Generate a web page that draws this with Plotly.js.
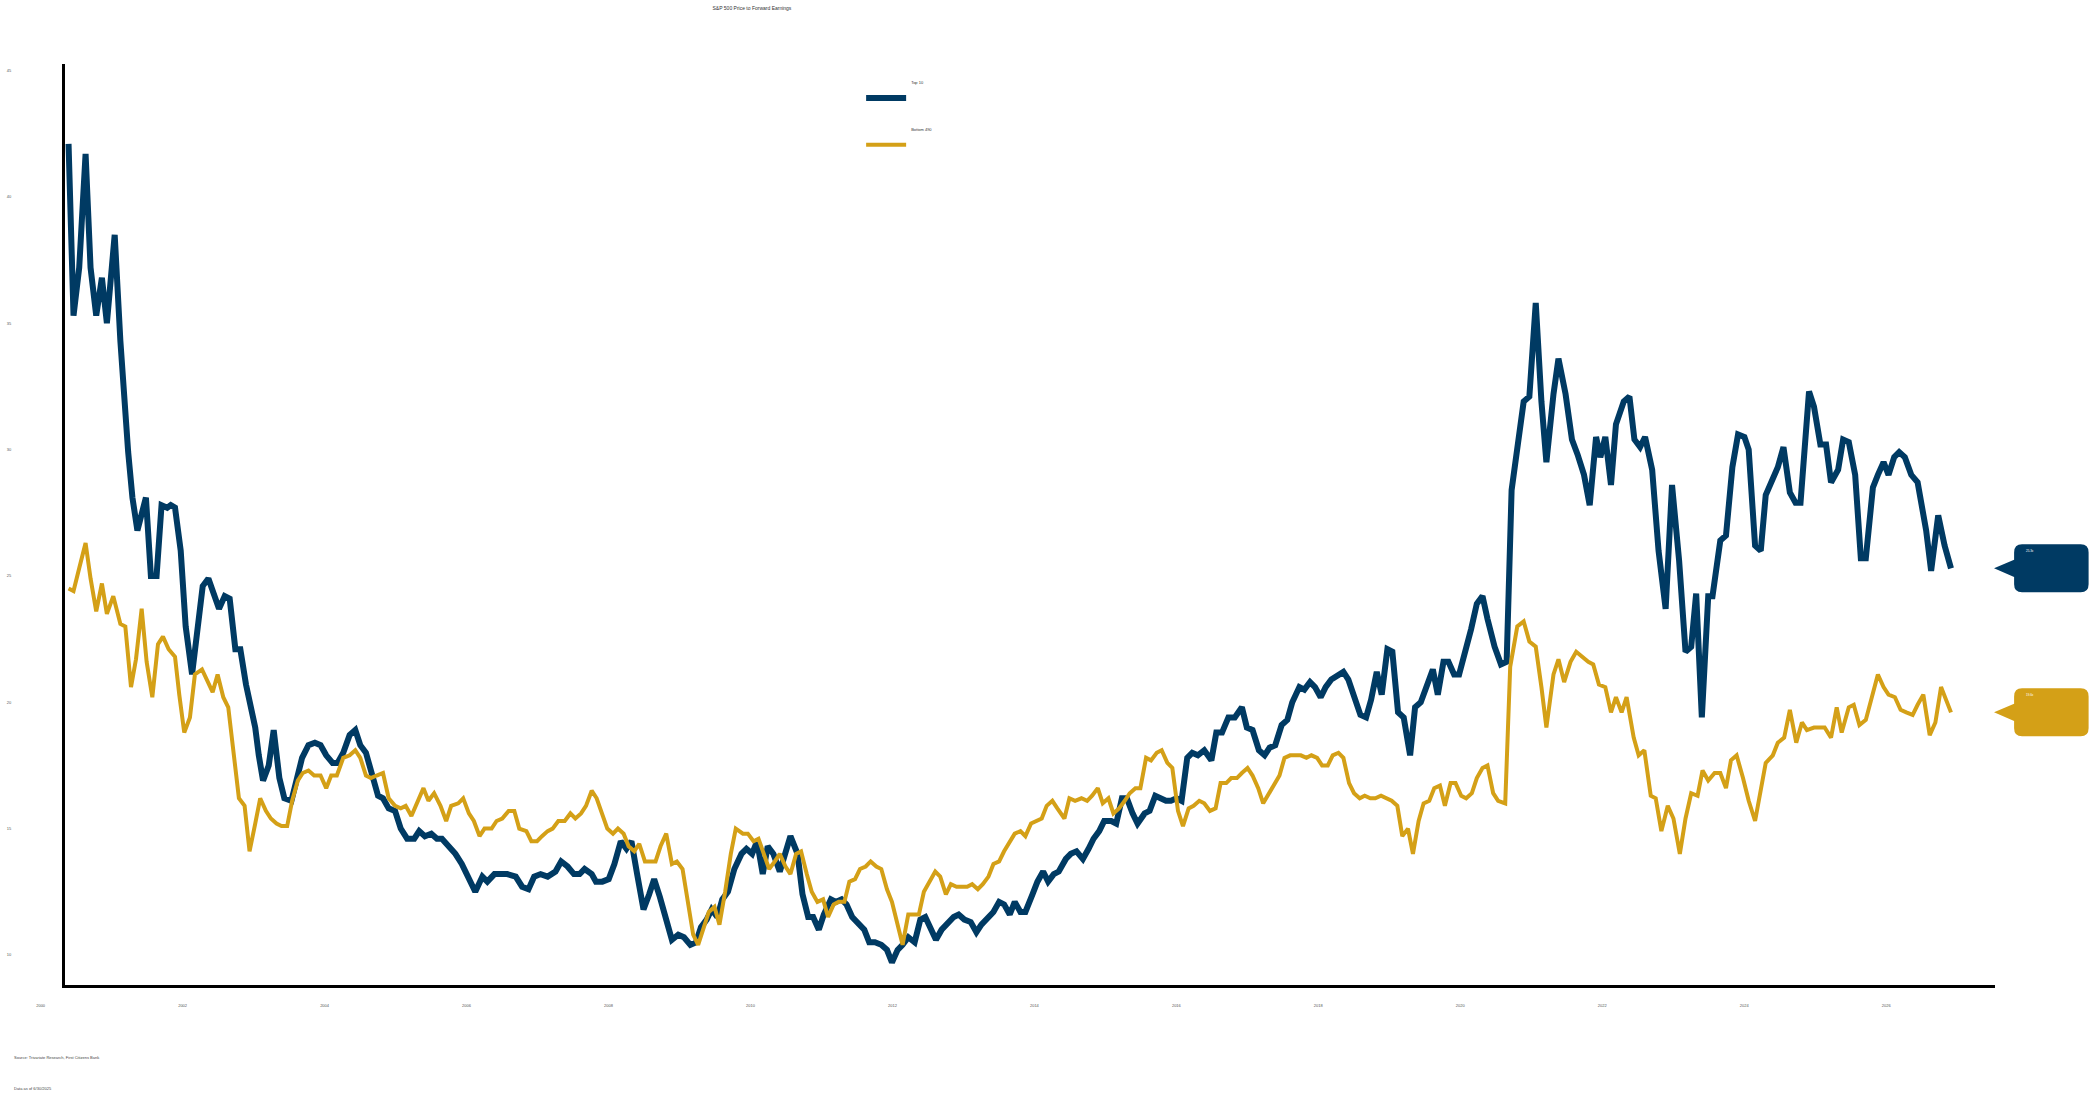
<!DOCTYPE html>
<html>
<head>
<meta charset="utf-8">
<script src="https://cdn.plot.ly/plotly-3.0.1.min.js"></script>
<style>html,body{margin:0;padding:0;background:#fff;}#chart{width:2094px;height:1094px;}</style>
</head>
<body>
<div id="chart"></div>
<script>
// ---- Data (decimal year, forward P/E) ----
const top10Dates = [2000.40,2000.47,2000.55,2000.64,2000.71,2000.79,2000.87,2000.94,2001.05,2001.13,2001.24,2001.30,2001.37,2001.43,2001.49,2001.56,2001.64,2001.71,2001.79,2001.84,2001.90,2001.98,2002.05,2002.14,2002.22,2002.29,2002.37,2002.45,2002.52,2002.60,2002.67,2002.75,2002.82,2002.90,2002.97,2003.03,2003.08,2003.14,2003.22,2003.29,2003.37,2003.44,2003.54,2003.61,2003.69,2003.78,2003.87,2003.95,2004.03,2004.12,2004.19,2004.27,2004.36,2004.44,2004.51,2004.59,2004.68,2004.76,2004.83,2004.91,2005.00,2005.08,2005.17,2005.27,2005.34,2005.42,2005.51,2005.59,2005.66,2005.76,2005.85,2005.94,2006.04,2006.13,2006.23,2006.30,2006.40,2006.47,2006.58,2006.70,2006.79,2006.88,2006.96,2007.05,2007.15,2007.26,2007.34,2007.43,2007.52,2007.60,2007.67,2007.77,2007.83,2007.92,2008.01,2008.09,2008.18,2008.26,2008.33,2008.41,2008.50,2008.58,2008.65,2008.73,2008.82,2008.90,2008.99,2009.07,2009.16,2009.24,2009.31,2009.39,2009.46,2009.54,2009.61,2009.69,2009.78,2009.88,2009.95,2010.03,2010.10,2010.18,2010.25,2010.33,2010.42,2010.50,2010.57,2010.67,2010.74,2010.82,2010.89,2010.97,2011.04,2011.14,2011.21,2011.29,2011.36,2011.44,2011.53,2011.61,2011.68,2011.76,2011.85,2011.93,2012.00,2012.08,2012.15,2012.23,2012.32,2012.40,2012.47,2012.55,2012.62,2012.70,2012.79,2012.87,2012.94,2013.02,2013.11,2013.19,2013.26,2013.34,2013.43,2013.51,2013.58,2013.66,2013.73,2013.81,2013.88,2013.98,2014.05,2014.13,2014.20,2014.28,2014.35,2014.45,2014.52,2014.60,2014.69,2014.77,2014.84,2014.92,2014.99,2015.09,2015.16,2015.24,2015.31,2015.39,2015.46,2015.56,2015.63,2015.71,2015.78,2015.86,2015.93,2016.01,2016.08,2016.16,2016.23,2016.31,2016.40,2016.50,2016.57,2016.65,2016.74,2016.83,2016.93,2017.00,2017.08,2017.17,2017.25,2017.32,2017.40,2017.49,2017.57,2017.64,2017.74,2017.81,2017.89,2017.96,2018.04,2018.11,2018.19,2018.26,2018.36,2018.43,2018.51,2018.60,2018.68,2018.75,2018.83,2018.90,2018.98,2019.05,2019.13,2019.21,2019.30,2019.37,2019.45,2019.52,2019.62,2019.69,2019.77,2019.84,2019.92,2019.99,2020.07,2020.16,2020.24,2020.32,2020.39,2020.49,2020.58,2020.66,2020.73,2020.83,2020.90,2020.98,2021.07,2021.15,2021.22,2021.32,2021.39,2021.49,2021.58,2021.66,2021.75,2021.83,2021.92,2021.98,2022.05,2022.13,2022.20,2022.31,2022.39,2022.46,2022.54,2022.61,2022.71,2022.80,2022.90,2022.99,2023.09,2023.18,2023.26,2023.33,2023.41,2023.50,2023.56,2023.67,2023.75,2023.84,2023.92,2024.01,2024.07,2024.16,2024.24,2024.31,2024.41,2024.48,2024.56,2024.65,2024.73,2024.80,2024.92,2024.99,2025.08,2025.16,2025.23,2025.33,2025.40,2025.48,2025.57,2025.65,2025.72,2025.82,2025.89,2025.97,2026.04,2026.12,2026.19,2026.27,2026.36,2026.45,2026.57,2026.64,2026.74,2026.83,2026.92];
const top10Values = [42.1,35.3,37.2,41.7,37.2,35.3,36.8,35.0,38.5,34.3,29.9,28.1,26.8,27.4,28.1,25.0,25.0,27.8,27.7,27.8,27.7,26.0,23.0,21.1,23.2,24.6,24.9,24.2,23.7,24.2,24.1,22.1,22.1,20.7,19.7,19.0,17.9,16.9,17.5,18.9,17.0,16.2,16.1,16.8,17.8,18.3,18.4,18.3,17.9,17.6,17.6,18.0,18.7,18.9,18.3,18.0,17.0,16.3,16.2,15.8,15.7,15.0,14.6,14.6,14.9,14.7,14.8,14.6,14.6,14.3,14.0,13.6,13.0,12.5,13.1,12.9,13.2,13.2,13.2,13.1,12.7,12.6,13.1,13.2,13.1,13.3,13.7,13.5,13.2,13.2,13.4,13.2,12.9,12.9,13.0,13.6,14.5,14.2,14.5,13.2,11.8,12.4,13.0,12.3,11.3,10.6,10.8,10.7,10.4,10.5,11.1,11.4,11.8,11.5,12.2,12.5,13.4,14.0,14.2,14.0,14.5,13.2,14.3,14.0,13.3,14.0,14.7,14.0,12.4,11.5,11.5,11.0,11.6,12.2,12.1,12.2,12.0,11.5,11.2,11.0,10.5,10.5,10.4,10.2,9.7,10.2,10.4,10.7,10.5,11.4,11.5,11.0,10.6,11.0,11.3,11.5,11.6,11.4,11.3,10.9,11.2,11.4,11.7,12.1,12.0,11.6,12.1,11.7,11.7,12.4,12.9,13.3,12.9,13.2,13.3,13.8,14.0,14.1,13.8,14.2,14.6,14.9,15.3,15.3,15.2,16.2,16.2,15.6,15.2,15.6,15.7,16.3,16.2,16.1,16.1,16.2,16.1,17.8,18.0,17.9,18.1,17.7,18.8,18.8,19.4,19.4,19.8,19.0,18.9,18.1,17.9,18.2,18.3,19.1,19.3,20.0,20.6,20.5,20.8,20.6,20.2,20.6,20.9,21.0,21.2,20.9,20.3,19.5,19.4,20.1,21.2,20.3,22.1,22.0,19.6,19.4,17.9,19.8,20.0,20.5,21.3,20.3,21.6,21.6,21.1,21.1,21.9,22.9,23.9,24.2,23.3,22.2,21.5,21.6,28.4,30.6,31.9,32.1,35.8,31.9,29.5,32.2,33.6,32.2,30.4,29.8,29.0,27.8,30.5,29.7,30.5,28.6,31.0,31.9,32.1,30.4,30.1,30.5,29.2,26.0,23.7,28.6,25.6,22.0,22.2,24.3,19.4,24.2,24.2,26.4,26.6,29.3,30.6,30.5,30.0,26.2,26.0,28.2,28.9,29.3,30.1,28.3,27.9,27.9,32.3,31.7,30.2,30.2,28.7,29.2,30.4,30.3,29.0,25.7,25.7,28.5,29.0,29.5,29.0,29.7,29.9,29.7,29.0,28.7,26.8,25.2,27.4,26.2,25.3];

const bottom490Dates = [2000.40,2000.47,2000.55,2000.64,2000.71,2000.79,2000.87,2000.94,2001.03,2001.13,2001.20,2001.28,2001.35,2001.43,2001.50,2001.58,2001.66,2001.73,2001.81,2001.90,2001.96,2002.03,2002.11,2002.18,2002.28,2002.35,2002.43,2002.50,2002.58,2002.65,2002.73,2002.80,2002.88,2002.95,2003.03,2003.10,2003.18,2003.25,2003.33,2003.40,2003.48,2003.55,2003.63,2003.70,2003.78,2003.86,2003.95,2004.03,2004.10,2004.18,2004.27,2004.36,2004.44,2004.51,2004.59,2004.66,2004.74,2004.83,2004.91,2005.00,2005.08,2005.15,2005.23,2005.31,2005.40,2005.47,2005.55,2005.64,2005.72,2005.79,2005.89,2005.96,2006.04,2006.11,2006.19,2006.26,2006.36,2006.43,2006.51,2006.60,2006.68,2006.75,2006.85,2006.92,2007.00,2007.07,2007.15,2007.22,2007.30,2007.39,2007.47,2007.54,2007.62,2007.69,2007.77,2007.84,2007.92,2007.99,2008.07,2008.14,2008.22,2008.29,2008.37,2008.44,2008.52,2008.59,2008.67,2008.74,2008.82,2008.90,2008.97,2009.05,2009.12,2009.20,2009.27,2009.35,2009.42,2009.50,2009.57,2009.65,2009.73,2009.80,2009.90,2009.97,2010.05,2010.12,2010.20,2010.27,2010.35,2010.42,2010.50,2010.57,2010.65,2010.72,2010.80,2010.87,2010.95,2011.03,2011.10,2011.18,2011.25,2011.33,2011.40,2011.48,2011.55,2011.63,2011.70,2011.78,2011.85,2011.93,2012.00,2012.08,2012.15,2012.23,2012.30,2012.38,2012.45,2012.53,2012.61,2012.68,2012.76,2012.83,2012.91,2012.98,2013.06,2013.13,2013.21,2013.28,2013.36,2013.43,2013.51,2013.58,2013.66,2013.73,2013.81,2013.88,2013.96,2014.03,2014.11,2014.18,2014.26,2014.33,2014.43,2014.50,2014.58,2014.67,2014.75,2014.82,2014.90,2014.97,2015.05,2015.12,2015.20,2015.28,2015.35,2015.43,2015.50,2015.58,2015.65,2015.73,2015.80,2015.88,2015.95,2016.03,2016.10,2016.18,2016.25,2016.33,2016.40,2016.48,2016.56,2016.63,2016.71,2016.78,2016.86,2016.93,2017.01,2017.08,2017.16,2017.23,2017.31,2017.38,2017.46,2017.53,2017.61,2017.69,2017.76,2017.84,2017.91,2017.99,2018.06,2018.14,2018.21,2018.29,2018.36,2018.44,2018.51,2018.59,2018.66,2018.74,2018.81,2018.89,2018.97,2019.04,2019.12,2019.19,2019.27,2019.34,2019.42,2019.49,2019.57,2019.64,2019.72,2019.79,2019.87,2019.94,2020.02,2020.09,2020.17,2020.24,2020.32,2020.39,2020.47,2020.54,2020.64,2020.71,2020.81,2020.90,2020.98,2021.07,2021.15,2021.22,2021.32,2021.39,2021.47,2021.56,2021.64,2021.73,2021.81,2021.88,2021.96,2022.05,2022.13,2022.20,2022.28,2022.35,2022.45,2022.52,2022.60,2022.69,2022.76,2022.84,2022.93,2023.01,2023.10,2023.18,2023.26,2023.35,2023.42,2023.50,2023.59,2023.67,2023.75,2023.82,2023.90,2023.99,2024.07,2024.16,2024.24,2024.31,2024.41,2024.48,2024.57,2024.65,2024.74,2024.82,2024.89,2024.99,2025.06,2025.14,2025.23,2025.31,2025.38,2025.48,2025.55,2025.63,2025.72,2025.80,2025.89,2025.97,2026.04,2026.13,2026.21,2026.29,2026.38,2026.45,2026.53,2026.62,2026.70,2026.78,2026.92];
const bottom490Values = [24.5,24.4,25.3,26.3,24.9,23.6,24.7,23.5,24.2,23.1,23.0,20.6,21.7,23.7,21.6,20.2,22.3,22.6,22.1,21.8,20.3,18.8,19.4,21.1,21.3,20.9,20.4,21.1,20.2,19.8,17.9,16.2,15.9,14.1,15.2,16.2,15.7,15.4,15.2,15.1,15.1,16.1,16.9,17.2,17.3,17.1,17.1,16.6,17.1,17.1,17.8,17.9,18.1,17.8,17.1,17.0,17.1,17.2,16.2,15.9,15.8,15.9,15.5,16.0,16.6,16.1,16.4,15.9,15.3,15.9,16.0,16.2,15.6,15.3,14.7,15.0,15.0,15.3,15.4,15.7,15.7,15.0,14.9,14.5,14.5,14.7,14.9,15.0,15.3,15.3,15.6,15.4,15.6,15.9,16.5,16.2,15.6,15.0,14.8,15.0,14.8,14.3,14.1,14.4,13.7,13.7,13.7,14.3,14.8,13.6,13.7,13.4,12.2,10.8,10.4,11.1,11.7,11.9,11.2,12.5,14.0,15.0,14.8,14.8,14.5,14.6,14.0,13.4,13.7,14.0,13.5,13.2,14.0,14.1,13.2,12.5,12.1,12.2,11.5,12.0,12.1,12.1,12.9,13.0,13.4,13.5,13.7,13.5,13.4,12.6,12.1,11.2,10.4,11.6,11.6,11.6,12.5,12.9,13.3,13.1,12.4,12.8,12.7,12.7,12.7,12.8,12.6,12.8,13.1,13.6,13.7,14.1,14.5,14.8,14.9,14.7,15.2,15.3,15.4,15.9,16.1,15.8,15.4,16.2,16.1,16.2,16.1,16.3,16.6,16.0,16.2,15.6,15.8,16.1,16.4,16.6,16.6,17.8,17.7,18.0,18.1,17.6,17.4,15.7,15.1,15.8,15.9,16.1,16.0,15.7,15.8,16.8,16.8,17.0,17.0,17.2,17.4,17.1,16.6,16.0,16.4,16.7,17.1,17.8,17.9,17.9,17.9,17.8,17.9,17.8,17.5,17.5,17.9,18.0,17.8,16.8,16.4,16.2,16.3,16.2,16.2,16.3,16.2,16.1,15.9,14.7,15.0,14.0,15.3,16.0,16.1,16.6,16.7,15.9,16.8,16.8,16.3,16.2,16.4,17.0,17.4,17.5,16.4,16.1,16.0,21.4,23.0,23.2,22.4,22.2,20.6,19.0,21.1,21.7,20.8,21.6,22.0,21.8,21.6,21.5,20.7,20.6,19.6,20.2,19.6,20.2,18.6,17.9,18.1,16.3,16.2,14.9,15.9,15.4,14.0,15.4,16.4,16.3,17.3,16.9,17.2,17.2,16.6,17.7,17.9,17.0,16.1,15.3,16.5,17.6,17.9,18.4,18.6,19.7,18.4,19.2,18.9,19.0,19.0,19.0,18.6,19.8,18.8,19.8,19.9,19.1,19.3,20.1,21.1,20.6,20.3,20.2,19.7,19.6,19.5,19.9,20.3,18.7,19.2,20.6,19.6];

const yTickVals = [10, 15, 20, 25, 30, 35, 40, 45];
const xTickYears = [2000, 2002, 2004, 2006, 2008, 2010, 2012, 2014, 2016, 2018, 2020, 2022, 2024, 2026];

const BLUE = '#003A63';
const GOLD = '#D4A017';
const FONT = 'Liberation Sans, Arial, sans-serif';

const traces = [
  {x: top10Dates, y: top10Values, type: 'scatter', mode: 'lines', name: 'Top 10<br> <br> <br> ',
   legendgroup: 'a', line: {color: BLUE, width: 6}, hoverinfo: 'x+y'},
  {x: bottom490Dates, y: bottom490Values, type: 'scatter', mode: 'lines', name: 'Bottom 490<br> <br> <br> ',
   legendgroup: 'b', line: {color: GOLD, width: 4}, hoverinfo: 'x+y'}
];

// speech-bubble callouts at the last value of each series
function bubble(v, color) {
  const tip = 0.9995, l = 1.0099, r = 1.0485, rx = 0.0041, ry = 0.32, h = 0.95, pb = 0.34;
  const p = `M ${tip},${v} L ${l},${v + pb} L ${l},${v + h - ry} Q ${l},${v + h} ${l + rx},${v + h} ` +
    `L ${r - rx},${v + h} Q ${r},${v + h} ${r},${v + h - ry} L ${r},${v - h + ry} Q ${r},${v - h} ${r - rx},${v - h} ` +
    `L ${l + rx},${v - h} Q ${l},${v - h} ${l},${v - h + ry} L ${l},${v - pb} Z`;
  return {type: 'path', xref: 'paper', yref: 'y', path: p, fillcolor: color, line: {width: 0}, layer: 'above'};
}
const lastTop = top10Values[top10Values.length - 1];
const lastBot = bottom490Values[bottom490Values.length - 1];

const xRange = [2000.35, 2027.54];
const pxPerYear = 1930 / (xRange[1] - xRange[0]);

const layout = {
  width: 2094, height: 1094,
  margin: {l: 65, r: 99, t: 64, b: 109},
  paper_bgcolor: '#ffffff', plot_bgcolor: '#ffffff',
  font: {family: FONT, color: '#444', size: 4},
  title: {text: 'S&P 500 Price to Forward Earnings', x: 0.3591, xref: 'container', xanchor: 'center',
          y: 0.9927, yref: 'container', yanchor: 'middle', font: {family: FONT, size: 5, color: '#333'}},
  xaxis: {type: 'linear', range: xRange, showgrid: false, zeroline: false,
          showline: true, linecolor: '#000', linewidth: 3, ticks: '',
          tickvals: xTickYears.map(y => y + 0.5), ticktext: xTickYears.map(String),
          ticklabelshift: -Math.round(0.5 * pxPerYear), ticklabelstandoff: 14,
          tickfont: {family: FONT, size: 4, color: '#555'}},
  yaxis: {range: [8.81, 45.26], showgrid: false, zeroline: false,
          showline: true, linecolor: '#000', linewidth: 3, ticks: '',
          tickvals: yTickVals, ticktext: yTickVals.map(String), ticklabelstandoff: 50,
          tickfont: {family: FONT, size: 4, color: '#555'}},
  showlegend: true,
  legend: {x: 0.4125, xanchor: 'left', y: 0.99, yanchor: 'top', orientation: 'v',
           itemwidth: 40, valign: 'bottom', tracegroupgap: 23, traceorder: 'grouped',
           bgcolor: 'rgba(0,0,0,0)', font: {family: FONT, size: 4, color: '#333'}},
  shapes: [bubble(lastTop, BLUE), bubble(lastBot, GOLD)],
  annotations: [
    {xref: 'paper', yref: 'y', x: 1.0149, y: lastTop + 0.67, xanchor: 'left', yanchor: 'middle',
     text: lastTop.toFixed(1) + 'x', showarrow: false, font: {family: FONT, size: 3, color: '#ffffff'}},
    {xref: 'paper', yref: 'y', x: 1.0149, y: lastBot + 0.67, xanchor: 'left', yanchor: 'middle',
     text: lastBot.toFixed(1) + 'x', showarrow: false, font: {family: FONT, size: 3, color: '#ffffff'}},
    {xref: 'paper', yref: 'paper', x: -0.0277, y: -0.0792, xanchor: 'left', yanchor: 'middle',
     text: 'Source: Trivariate Research, First Citizens Bank', showarrow: false,
     font: {family: FONT, size: 4, color: '#444'}},
    {xref: 'paper', yref: 'paper', x: -0.0277, y: -0.1128, xanchor: 'left', yanchor: 'middle',
     text: 'Data as of 6/30/2025', showarrow: false, font: {family: FONT, size: 4, color: '#444'}}
  ]
};

Plotly.newPlot('chart', traces, layout, {displayModeBar: false, responsive: false});
</script>
</body>
</html>
